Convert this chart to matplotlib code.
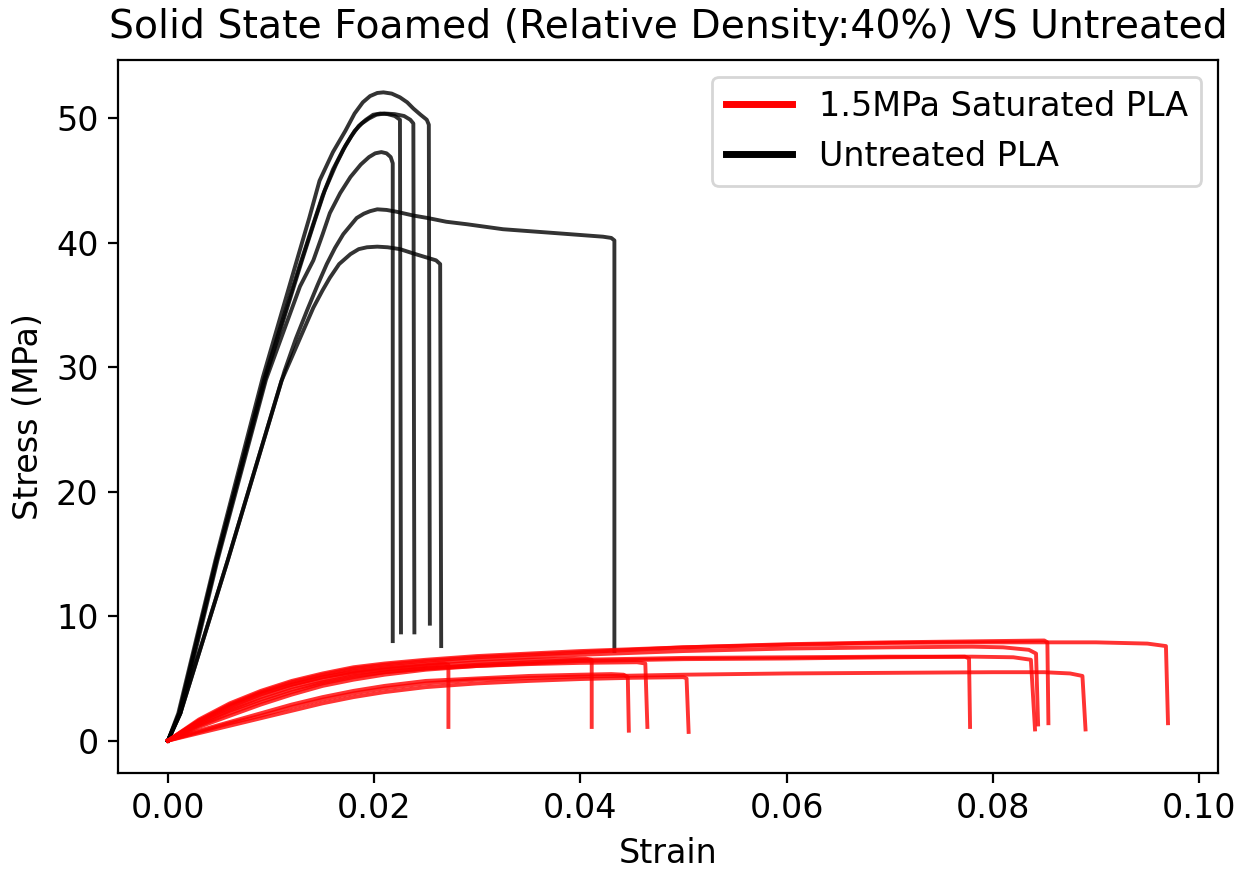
import matplotlib
matplotlib.use("Agg")
import matplotlib.pyplot as plt
from matplotlib.lines import Line2D

# ---------------- Untreated PLA (black) ----------------
untreated_A_strain = [0, 0.0012, 0.0048, 0.0095, 0.0128, 0.0141, 0.0150, 0.0157, 0.0167, 0.0177, 0.0187, 0.0195, 0.0201, 0.0207, 0.0212, 0.0216, 0.0218, 0.0218]
untreated_A_stress = [0, 2.2, 14.5, 29.0, 36.5, 38.6, 40.7, 42.4, 44.0, 45.3, 46.3, 46.9, 47.2, 47.3, 47.2, 46.9, 46.4, 8.0]

untreated_B_strain = [0, 0.0011, 0.0047, 0.0093, 0.0127, 0.0140, 0.0150, 0.0160, 0.0170, 0.0178, 0.0185, 0.0192, 0.0199, 0.0206, 0.0213, 0.0220, 0.0225, 0.0226]
untreated_B_stress = [0, 2.2, 14.5, 29.0, 38.0, 41.3, 43.8, 45.9, 47.5, 48.6, 49.4, 49.9, 50.3, 50.4, 50.35, 50.2, 49.9, 8.7]

untreated_C_strain = [0, 0.0011, 0.0047, 0.0094, 0.0130, 0.0142, 0.0152, 0.0163, 0.0172, 0.0181, 0.0188, 0.0195, 0.0202, 0.0210, 0.0220, 0.0229, 0.0235, 0.0238, 0.0239]
untreated_C_stress = [0, 2.2, 14.5, 29.0, 38.6, 41.7, 44.2, 46.3, 47.8, 49.0, 49.6, 50.0, 50.3, 50.4, 50.35, 50.2, 49.9, 49.6, 8.7]

untreated_D_strain = [0, 0.0010, 0.0046, 0.0092, 0.0125, 0.0137, 0.0147, 0.0160, 0.0172, 0.0181, 0.0189, 0.0196, 0.0203, 0.0209, 0.0217, 0.0225, 0.0232, 0.0238, 0.0245, 0.0251, 0.0253, 0.0254]
untreated_D_stress = [0, 2.2, 14.5, 29.2, 38.6, 42.0, 45.0, 47.3, 49.0, 50.4, 51.3, 51.8, 52.05, 52.1, 52.0, 51.7, 51.3, 50.8, 50.3, 49.9, 49.5, 9.4]

untreated_E_strain = [0, 0.0012, 0.0058, 0.0110, 0.0120, 0.0131, 0.0141, 0.0150, 0.0157, 0.0166, 0.0177, 0.0185, 0.0193, 0.0203, 0.0213, 0.0225, 0.0240, 0.0252, 0.0260, 0.0264, 0.0265]
untreated_E_stress = [0, 2.2, 14.5, 28.9, 30.8, 32.9, 34.8, 36.2, 37.2, 38.3, 39.1, 39.5, 39.65, 39.7, 39.65, 39.5, 39.1, 38.8, 38.6, 38.3, 7.6]

untreated_F_strain = [0, 0.0012, 0.0058, 0.0113, 0.0124, 0.0135, 0.0145, 0.0154, 0.0162, 0.0170, 0.0177, 0.0183, 0.0190, 0.0196, 0.0203, 0.0212, 0.0222, 0.0238, 0.0252, 0.0270, 0.0290, 0.0325, 0.0374, 0.0422, 0.0430, 0.0433, 0.0433]
untreated_F_stress = [0, 2.2, 14.5, 29.7, 32.3, 34.6, 36.6, 38.3, 39.6, 40.7, 41.4, 42.0, 42.35, 42.55, 42.7, 42.65, 42.5, 42.2, 42.0, 41.7, 41.5, 41.1, 40.8, 40.5, 40.4, 40.2, 7.2]

# ---------------- 1.5MPa Saturated PLA (red) ----------------
sat_1_strain = [0, 0.003, 0.006, 0.009, 0.012, 0.015, 0.018, 0.021, 0.024, 0.0268, 0.0272, 0.0272]
sat_1_stress = [0, 1.6, 2.8, 3.8, 4.5, 5.1, 5.5, 5.8, 6.0, 6.2, 6.1, 1.1]

sat_2_strain = [0, 0.003, 0.006, 0.009, 0.012, 0.015, 0.018, 0.021, 0.025, 0.030, 0.035, 0.0405, 0.0411, 0.0411]
sat_2_stress = [0, 1.4, 2.5, 3.5, 4.3, 4.9, 5.4, 5.7, 6.0, 6.3, 6.5, 6.6, 6.5, 1.1]

sat_3_strain = [0, 0.003, 0.006, 0.009, 0.012, 0.015, 0.018, 0.021, 0.025, 0.030, 0.035, 0.040, 0.043, 0.0442, 0.0446, 0.0447]
sat_3_stress = [0, 0.8, 1.5, 2.2, 2.9, 3.5, 4.0, 4.4, 4.8, 5.0, 5.2, 5.3, 5.35, 5.3, 5.1, 0.8]

sat_4_strain = [0, 0.003, 0.006, 0.009, 0.012, 0.015, 0.018, 0.021, 0.025, 0.030, 0.035, 0.040, 0.0455, 0.0463, 0.0465]
sat_4_stress = [0, 1.2, 2.2, 3.1, 3.9, 4.6, 5.1, 5.5, 5.8, 6.0, 6.15, 6.25, 6.3, 6.2, 1.1]

sat_5_strain = [0, 0.003, 0.006, 0.009, 0.012, 0.015, 0.018, 0.021, 0.025, 0.030, 0.035, 0.040, 0.045, 0.050, 0.0503, 0.0505]
sat_5_stress = [0, 0.6, 1.2, 1.8, 2.4, 3.0, 3.5, 3.9, 4.3, 4.6, 4.8, 4.95, 5.05, 5.1, 5.0, 0.7]

sat_6_strain = [0, 0.003, 0.006, 0.009, 0.012, 0.015, 0.018, 0.021, 0.025, 0.030, 0.040, 0.050, 0.060, 0.070, 0.0773, 0.0777, 0.0778]
sat_6_stress = [0, 1.3, 2.4, 3.3, 4.1, 4.7, 5.2, 5.5, 5.8, 6.1, 6.5, 6.65, 6.7, 6.75, 6.75, 6.6, 1.1]

sat_7_strain = [0, 0.003, 0.006, 0.009, 0.012, 0.015, 0.018, 0.021, 0.025, 0.030, 0.040, 0.050, 0.060, 0.070, 0.078, 0.082, 0.0837, 0.0841]
sat_7_stress = [0, 1.1, 2.0, 2.9, 3.7, 4.4, 4.9, 5.3, 5.7, 6.0, 6.4, 6.55, 6.6, 6.7, 6.75, 6.7, 6.5, 0.9]

sat_8_strain = [0, 0.003, 0.006, 0.009, 0.012, 0.015, 0.018, 0.021, 0.025, 0.030, 0.040, 0.050, 0.060, 0.070, 0.078, 0.081, 0.0835, 0.0842, 0.0844]
sat_8_stress = [0, 1.5, 2.7, 3.7, 4.5, 5.1, 5.6, 5.9, 6.2, 6.5, 6.9, 7.2, 7.4, 7.5, 7.55, 7.5, 7.3, 7.0, 1.3]

sat_9_strain = [0, 0.003, 0.006, 0.009, 0.012, 0.015, 0.018, 0.021, 0.025, 0.030, 0.040, 0.050, 0.060, 0.070, 0.080, 0.085, 0.0853, 0.0854]
sat_9_stress = [0, 1.6, 2.9, 3.9, 4.7, 5.3, 5.8, 6.1, 6.4, 6.7, 7.1, 7.5, 7.75, 7.9, 8.0, 8.05, 7.9, 1.4]

sat_10_strain = [0, 0.003, 0.006, 0.009, 0.012, 0.015, 0.018, 0.021, 0.025, 0.030, 0.040, 0.050, 0.060, 0.070, 0.080, 0.085, 0.0875, 0.0887, 0.0890]
sat_10_stress = [0, 0.7, 1.4, 2.0, 2.7, 3.3, 3.8, 4.2, 4.6, 4.9, 5.15, 5.3, 5.4, 5.45, 5.5, 5.5, 5.4, 5.2, 0.9]

sat_11_strain = [0, 0.003, 0.006, 0.009, 0.012, 0.015, 0.018, 0.021, 0.025, 0.030, 0.040, 0.050, 0.060, 0.070, 0.080, 0.090, 0.095, 0.0968, 0.0970]
sat_11_stress = [0, 1.7, 3.0, 4.0, 4.8, 5.4, 5.9, 6.2, 6.5, 6.8, 7.2, 7.5, 7.7, 7.85, 7.9, 7.9, 7.8, 7.6, 1.4]

untreated_curves = [
    (untreated_A_strain, untreated_A_stress),
    (untreated_B_strain, untreated_B_stress),
    (untreated_C_strain, untreated_C_stress),
    (untreated_D_strain, untreated_D_stress),
    (untreated_E_strain, untreated_E_stress),
    (untreated_F_strain, untreated_F_stress),
]
saturated_curves = [
    (sat_1_strain, sat_1_stress), (sat_2_strain, sat_2_stress),
    (sat_3_strain, sat_3_stress), (sat_4_strain, sat_4_stress),
    (sat_5_strain, sat_5_stress), (sat_6_strain, sat_6_stress),
    (sat_7_strain, sat_7_stress), (sat_8_strain, sat_8_stress),
    (sat_9_strain, sat_9_stress), (sat_10_strain, sat_10_stress),
    (sat_11_strain, sat_11_stress),
]

legend_labels = ["1.5MPa Saturated PLA", "Untreated PLA"]
xtick_values = [0.00, 0.02, 0.04, 0.06, 0.08, 0.10]
xtick_labels = ["0.00", "0.02", "0.04", "0.06", "0.08", "0.10"]
ytick_values = [0, 10, 20, 30, 40, 50]

fig = plt.figure(figsize=(6.22, 4.355), dpi=200)
ax = fig.add_axes([118 / 1244, 1 - 773 / 871, (1218 - 118) / 1244, (773 - 60) / 871])

for x, y in untreated_curves:
    ax.plot(x, y, color="black", alpha=0.8, lw=1.4)
for x, y in saturated_curves:
    ax.plot(x, y, color="red", alpha=0.8, lw=1.4)

ax.set_xlim(-0.00485, 0.10185)
ax.set_ylim(-2.6, 54.7)
ax.set_xticks(xtick_values)
ax.set_xticklabels(xtick_labels)
ax.set_yticks(ytick_values)
ax.tick_params(labelsize=12)

ax.set_title("Solid State Foamed (Relative Density:40%) VS Untreated", fontsize=14.2, pad=8)
ax.set_xlabel("Strain", fontsize=12)
ax.set_ylabel("Stress (MPa)", fontsize=12)

handles = [Line2D([0], [0], color="red", lw=2.5),
           Line2D([0], [0], color="black", lw=2.5)]
ax.legend(handles, legend_labels, loc="upper right", fontsize=12)

fig.savefig("out.png", dpi=200)
